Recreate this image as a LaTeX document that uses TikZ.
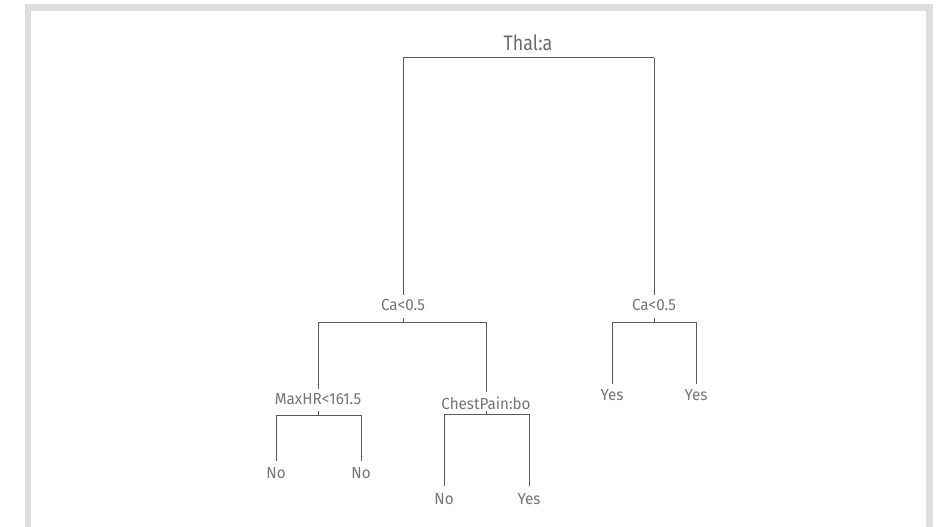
\documentclass[tikz,border=0pt]{standalone}
\usepackage{fontspec}
\setmainfont{Fira Sans}[FakeStretch=0.95]
\definecolor{framegray}{HTML}{DEDEDE}
\definecolor{treeline}{HTML}{5A5A5A}
\definecolor{labelgray}{HTML}{757575}
\tikzset{
  branch/.style={treeline, line width=1pt},
  split/.style={anchor=base, inner sep=0pt, text=labelgray, font=\fontsize{16}{18}\selectfont},
  leaf/.style={split},
}
\begin{document}
\begin{tikzpicture}[x=1pt, y=-1pt]
\useasboundingbox (0,0) rectangle (943,527);
\draw[framegray, line width=6.5pt] (28,527) -- (28,7.5) -- (929.5,7.5) -- (929.5,527);
% root split
\node[split, text=treeline!90, font=\fontsize{21}{24}\selectfont\addfontfeature{FakeStretch=0.85}] (thal) at (528,51) {Thal:a};
\coordinate (thal-l) at (403,58);
\coordinate (thal-r) at (654,58);
\draw[branch] (thal-l) -- (thal-r);
% second level
\node[split] (caA) at (403,310) {Ca<0.5};
\node[split] (caB) at (654,310) {Ca<0.5};
\draw[branch] (thal-l) -- ([yshift=4pt]caA.north);
\draw[branch] (thal-r) -- ([yshift=4pt]caB.north);
\coordinate (caA-m) at (403,322);
\coordinate (caA-l) at (318,322);
\coordinate (caA-r) at (486,322);
\draw[branch] (caA-l) -- (caA-r);
\draw[branch] (caA-m) -- ++(0,-4);
\coordinate (caB-m) at (654,322);
\coordinate (caB-l) at (612,322);
\coordinate (caB-r) at (696,322);
\draw[branch] (caB-l) -- (caB-r);
\draw[branch] (caB-m) -- ++(0,-4);
% third level
\node[split] (maxhr) at (318,404) {MaxHR<161.5};
\node[split] (chest) at (486,409) {ChestPain:bo};
\draw[branch] (caA-l) -- ([yshift=4pt]maxhr.north);
\draw[branch] (caA-r) -- ([yshift=4pt]chest.north);
\node[leaf] (yesA) at (612,400) {Yes};
\node[leaf] (yesB) at (696,400) {Yes};
\draw[branch] (caB-l) -- ([yshift=5pt]yesA.north);
\draw[branch] (caB-r) -- ([yshift=5pt]yesB.north);
\coordinate (maxhr-m) at (318,415);
\coordinate (maxhr-l) at (276,415);
\coordinate (maxhr-r) at (361,415);
\draw[branch] (maxhr-l) -- (maxhr-r);
\draw[branch] (maxhr-m) -- ++(0,-4);
\coordinate (chest-m) at (486,414);
\coordinate (chest-l) at (444,414);
\coordinate (chest-r) at (529,414);
\draw[branch] (chest-l) -- (chest-r);
\draw[branch] (chest-m) -- ++(0,-3);
% leaves
\node[leaf] (noA) at (276,478) {No};
\node[leaf] (noB) at (361,478) {No};
\node[leaf] (noC) at (444,504) {No};
\node[leaf] (yesC) at (529,504) {Yes};
\draw[branch] (maxhr-l) -- ([yshift=6pt]noA.north);
\draw[branch] (maxhr-r) -- ([yshift=6pt]noB.north);
\draw[branch] (chest-l) -- ([yshift=7pt]noC.north);
\draw[branch] (chest-r) -- ([yshift=7pt]yesC.north);
\end{tikzpicture}
\end{document}
